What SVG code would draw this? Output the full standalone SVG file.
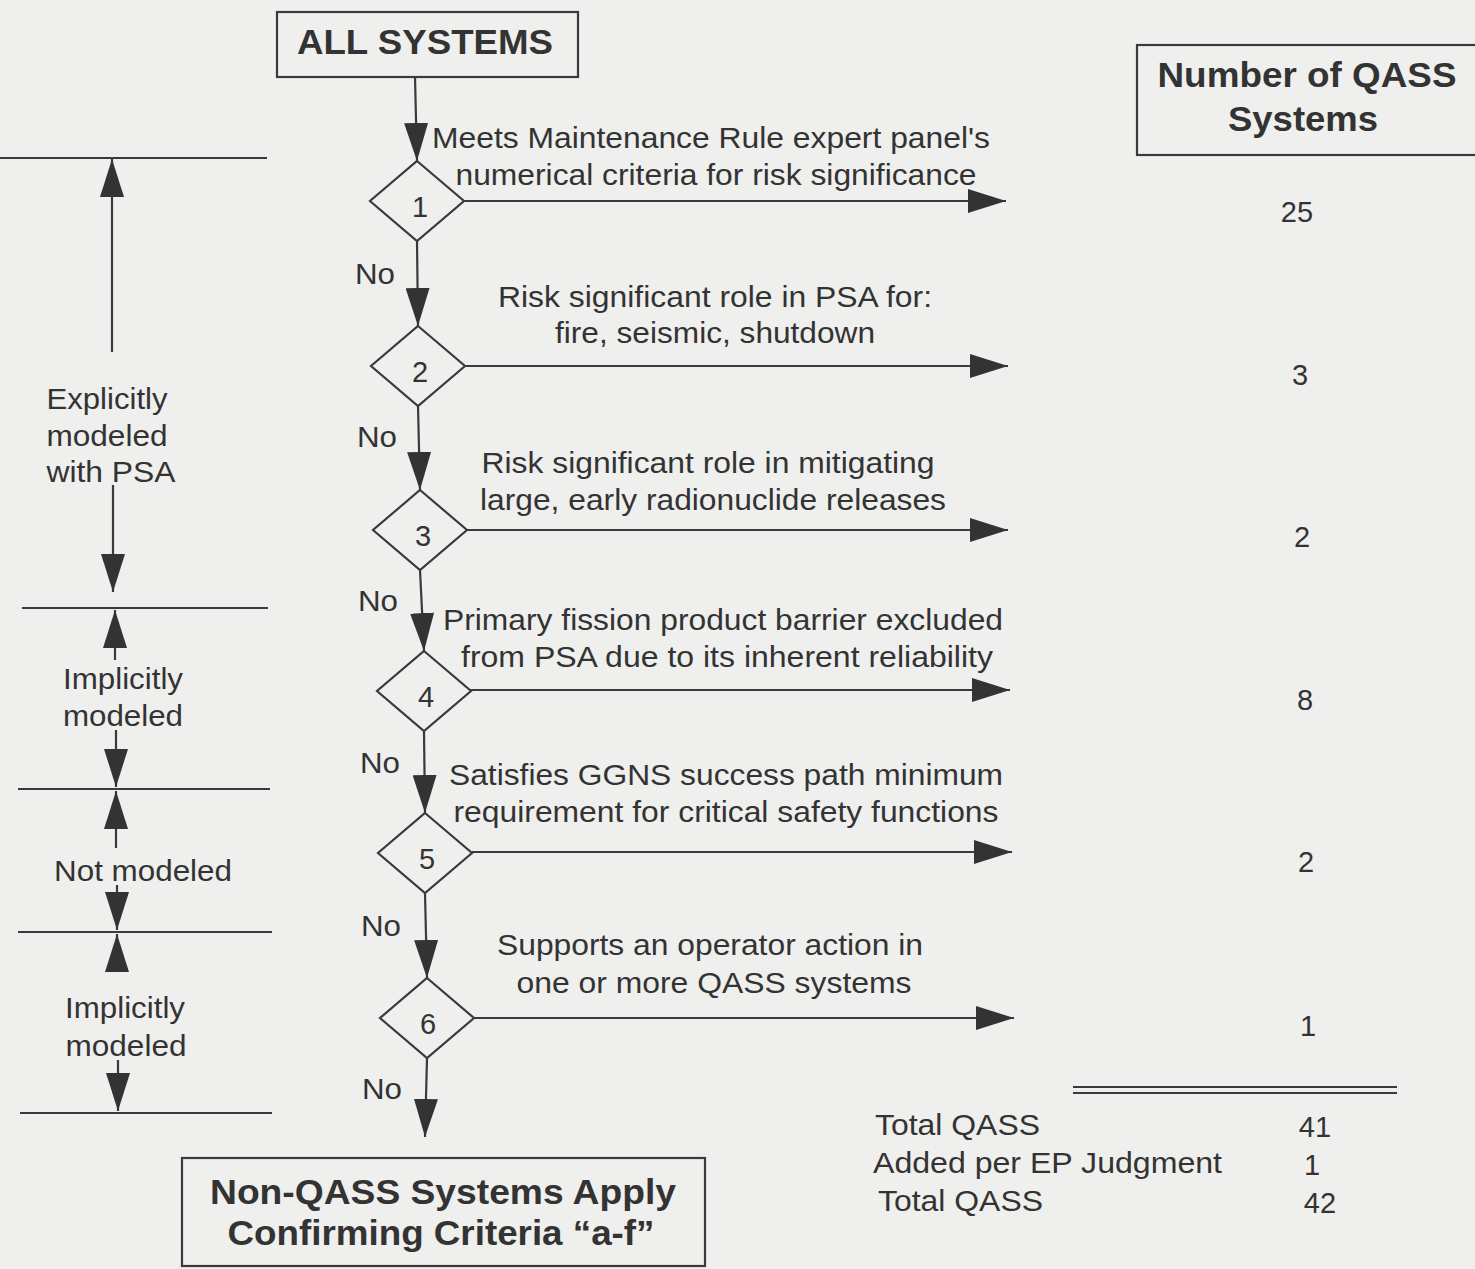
<svg xmlns="http://www.w3.org/2000/svg" width="1475" height="1269" viewBox="0 0 1475 1269">
  <style>
    .ln { stroke: #3a3a3a; stroke-width: 2.2; fill: none; }
    .box { stroke: #3a3a3a; stroke-width: 2.2; fill: none; }
    .dia { stroke: #3a3a3a; stroke-width: 2.2; fill: none; }
    .t { font-family: "Liberation Sans", Arial, sans-serif; font-size: 29px; fill: #333; }
    .tc { text-anchor: middle; }
    .b { font-weight: bold; font-size: 35px; }
    .num { font-family: "Liberation Sans", Arial, sans-serif; font-size: 29px; fill: #333; text-anchor: middle; }
  </style>
  <defs>
    <marker id="ah" markerUnits="userSpaceOnUse" markerWidth="40" markerHeight="24" refX="38" refY="12" orient="auto">
      <path d="M0,0 L38,12 L0,24 z" fill="#333"/>
    </marker>
  </defs>

  <rect width="1475" height="1269" fill="#efefed"/>

  <!-- Start box -->
  <g id="all-systems">
    <rect class="box" x="277" y="12" width="301" height="65"/>
    <text class="t tc b" x="425" y="54" textLength="256" lengthAdjust="spacingAndGlyphs">ALL SYSTEMS</text>
  </g>

  <!-- Result column header -->
  <g id="qass-header">
    <rect class="box" x="1137" y="45" width="345" height="110"/>
    <text class="t tc b" x="1307" y="87" textLength="299" lengthAdjust="spacingAndGlyphs">Number of QASS</text>
    <text class="t tc b" x="1303" y="131" textLength="150" lengthAdjust="spacingAndGlyphs">Systems</text>
  </g>

  <!-- Decision diamonds -->
  <g id="d1">
    <polygon class="dia" points="417,161 464,201 417,241 370,201"/>
    <text class="t tc" x="420" y="217" font-size="28">1</text>
  </g>
  <g id="d2">
    <polygon class="dia" points="418,326 465,366 418,406 371,366"/>
    <text class="t tc" x="420" y="382" font-size="28">2</text>
  </g>
  <g id="d3">
    <polygon class="dia" points="420,490 467,530 420,570 373,530"/>
    <text class="t tc" x="423" y="546" font-size="28">3</text>
  </g>
  <g id="d4">
    <polygon class="dia" points="424,651 471,691 424,731 377,691"/>
    <text class="t tc" x="426" y="707" font-size="28">4</text>
  </g>
  <g id="d5">
    <polygon class="dia" points="425,813 472,853 425,893 378,853"/>
    <text class="t tc" x="427" y="869" font-size="28">5</text>
  </g>
  <g id="d6">
    <polygon class="dia" points="427,978 474,1018 427,1058 380,1018"/>
    <text class="t tc" x="428" y="1034" font-size="28">6</text>
  </g>

  <!-- End box -->
  <g id="non-qass">
    <rect class="box" x="182" y="1158" width="523" height="108"/>
    <text class="t tc b" x="443" y="1204" font-size="33" textLength="466" lengthAdjust="spacingAndGlyphs">Non-QASS Systems Apply</text>
    <text class="t tc b" x="441" y="1245" font-size="33" textLength="427" lengthAdjust="spacingAndGlyphs">Confirming Criteria “a-f”</text>
  </g>

  <!-- Connectors -->
  <g id="connectors">
    <line class="ln" x1="415" y1="77" x2="417" y2="161" marker-end="url(#ah)"/>
    <line class="ln" x1="417" y1="241" x2="418" y2="326" marker-end="url(#ah)"/>
    <line class="ln" x1="418" y1="406" x2="420" y2="490" marker-end="url(#ah)"/>
    <line class="ln" x1="420" y1="570" x2="424" y2="651" marker-end="url(#ah)"/>
    <line class="ln" x1="424" y1="731" x2="425" y2="813" marker-end="url(#ah)"/>
    <line class="ln" x1="425" y1="893" x2="427" y2="978" marker-end="url(#ah)"/>
    <line class="ln" x1="427" y1="1058" x2="425" y2="1137" marker-end="url(#ah)"/>

    <line class="ln" x1="464" y1="201" x2="1006" y2="201" marker-end="url(#ah)"/>
    <line class="ln" x1="465" y1="366" x2="1008" y2="366" marker-end="url(#ah)"/>
    <line class="ln" x1="467" y1="530" x2="1008" y2="530" marker-end="url(#ah)"/>
    <line class="ln" x1="471" y1="690" x2="1010" y2="690" marker-end="url(#ah)"/>
    <line class="ln" x1="472" y1="852" x2="1012" y2="852" marker-end="url(#ah)"/>
    <line class="ln" x1="474" y1="1018" x2="1014" y2="1018" marker-end="url(#ah)"/>
  </g>

  <!-- Decision criteria -->
  <g id="criteria">
    <text class="t tc" x="711" y="148" textLength="558" lengthAdjust="spacingAndGlyphs">Meets Maintenance Rule expert panel's</text>
    <text class="t tc" x="716" y="185" textLength="521" lengthAdjust="spacingAndGlyphs">numerical criteria for risk significance</text>
    <text class="t tc" x="715" y="307" textLength="434" lengthAdjust="spacingAndGlyphs">Risk significant role in PSA for:</text>
    <text class="t tc" x="715" y="343" textLength="320" lengthAdjust="spacingAndGlyphs">fire, seismic, shutdown</text>
    <text class="t tc" x="708" y="473" textLength="453" lengthAdjust="spacingAndGlyphs">Risk significant role in mitigating</text>
    <text class="t tc" x="713" y="510" textLength="466" lengthAdjust="spacingAndGlyphs">large, early radionuclide releases</text>
    <text class="t tc" x="723" y="630" textLength="560" lengthAdjust="spacingAndGlyphs">Primary fission product barrier excluded</text>
    <text class="t tc" x="727" y="667" textLength="532" lengthAdjust="spacingAndGlyphs">from PSA due to its inherent reliability</text>
    <text class="t tc" x="726" y="785" textLength="554" lengthAdjust="spacingAndGlyphs">Satisfies GGNS success path minimum</text>
    <text class="t tc" x="726" y="822" textLength="545" lengthAdjust="spacingAndGlyphs">requirement for critical safety functions</text>
    <text class="t tc" x="710" y="955" textLength="426" lengthAdjust="spacingAndGlyphs">Supports an operator action in</text>
    <text class="t tc" x="714" y="993" textLength="395" lengthAdjust="spacingAndGlyphs">one or more QASS systems</text>
  </g>

  <!-- "No" branch labels -->
  <g id="no-labels">
    <text class="t" x="355" y="284" textLength="40" lengthAdjust="spacingAndGlyphs">No</text>
    <text class="t" x="357" y="447" textLength="40" lengthAdjust="spacingAndGlyphs">No</text>
    <text class="t" x="358" y="611" textLength="40" lengthAdjust="spacingAndGlyphs">No</text>
    <text class="t" x="360" y="773" textLength="40" lengthAdjust="spacingAndGlyphs">No</text>
    <text class="t" x="361" y="936" textLength="40" lengthAdjust="spacingAndGlyphs">No</text>
    <text class="t" x="362" y="1099" textLength="40" lengthAdjust="spacingAndGlyphs">No</text>
  </g>

  <!-- System counts -->
  <g id="counts">
    <text class="num" x="1297" y="222">25</text>
    <text class="num" x="1300" y="385">3</text>
    <text class="num" x="1302" y="547">2</text>
    <text class="num" x="1305" y="710">8</text>
    <text class="num" x="1306" y="872">2</text>
    <text class="num" x="1308" y="1036">1</text>
  </g>

  <!-- Totals -->
  <g id="totals">
    <line class="ln" x1="1073" y1="1087" x2="1397" y2="1087" stroke-width="1.8"/>
    <line class="ln" x1="1073" y1="1093" x2="1397" y2="1093" stroke-width="1.8"/>
    <text class="t" x="875" y="1135" textLength="165" lengthAdjust="spacingAndGlyphs">Total QASS</text>
    <text class="t" x="873" y="1173" textLength="349" lengthAdjust="spacingAndGlyphs">Added per EP Judgment</text>
    <text class="t" x="878" y="1211" textLength="165" lengthAdjust="spacingAndGlyphs">Total QASS</text>
    <text class="num" x="1315" y="1137">41</text>
    <text class="num" x="1312" y="1175">1</text>
    <text class="num" x="1320" y="1213">42</text>
  </g>

  <!-- Modelling bands on the left -->
  <g id="bands">
    <line class="ln" x1="0" y1="158" x2="267" y2="158"/>
    <line class="ln" x1="22" y1="608" x2="268" y2="608"/>
    <line class="ln" x1="18" y1="789" x2="270" y2="789"/>
    <line class="ln" x1="18" y1="932" x2="272" y2="932"/>
    <line class="ln" x1="20" y1="1113" x2="272" y2="1113"/>

    <line class="ln" x1="112" y1="352" x2="112" y2="159" marker-end="url(#ah)"/>
    <line class="ln" x1="113" y1="485" x2="113" y2="592" marker-end="url(#ah)"/>
    <text class="t tc" x="107" y="409" textLength="121" lengthAdjust="spacingAndGlyphs">Explicitly</text>
    <text class="t tc" x="107" y="446" textLength="121" lengthAdjust="spacingAndGlyphs">modeled</text>
    <text class="t tc" x="111" y="482" textLength="129" lengthAdjust="spacingAndGlyphs">with PSA</text>

    <line class="ln" x1="115" y1="660" x2="115" y2="610" marker-end="url(#ah)"/>
    <line class="ln" x1="116" y1="730" x2="116" y2="787" marker-end="url(#ah)"/>
    <text class="t tc" x="123" y="689" textLength="120" lengthAdjust="spacingAndGlyphs">Implicitly</text>
    <text class="t tc" x="123" y="726" textLength="120" lengthAdjust="spacingAndGlyphs">modeled</text>

    <line class="ln" x1="116" y1="848" x2="116" y2="791" marker-end="url(#ah)"/>
    <line class="ln" x1="117" y1="885" x2="117" y2="930" marker-end="url(#ah)"/>
    <text class="t tc" x="143" y="881" textLength="178" lengthAdjust="spacingAndGlyphs">Not modeled</text>

    <line class="ln" x1="117" y1="970" x2="117" y2="934" marker-end="url(#ah)"/>
    <line class="ln" x1="118" y1="1060" x2="118" y2="1111" marker-end="url(#ah)"/>
    <text class="t tc" x="125" y="1018" textLength="120" lengthAdjust="spacingAndGlyphs">Implicitly</text>
    <text class="t tc" x="126" y="1056" textLength="121" lengthAdjust="spacingAndGlyphs">modeled</text>
  </g>
</svg>
